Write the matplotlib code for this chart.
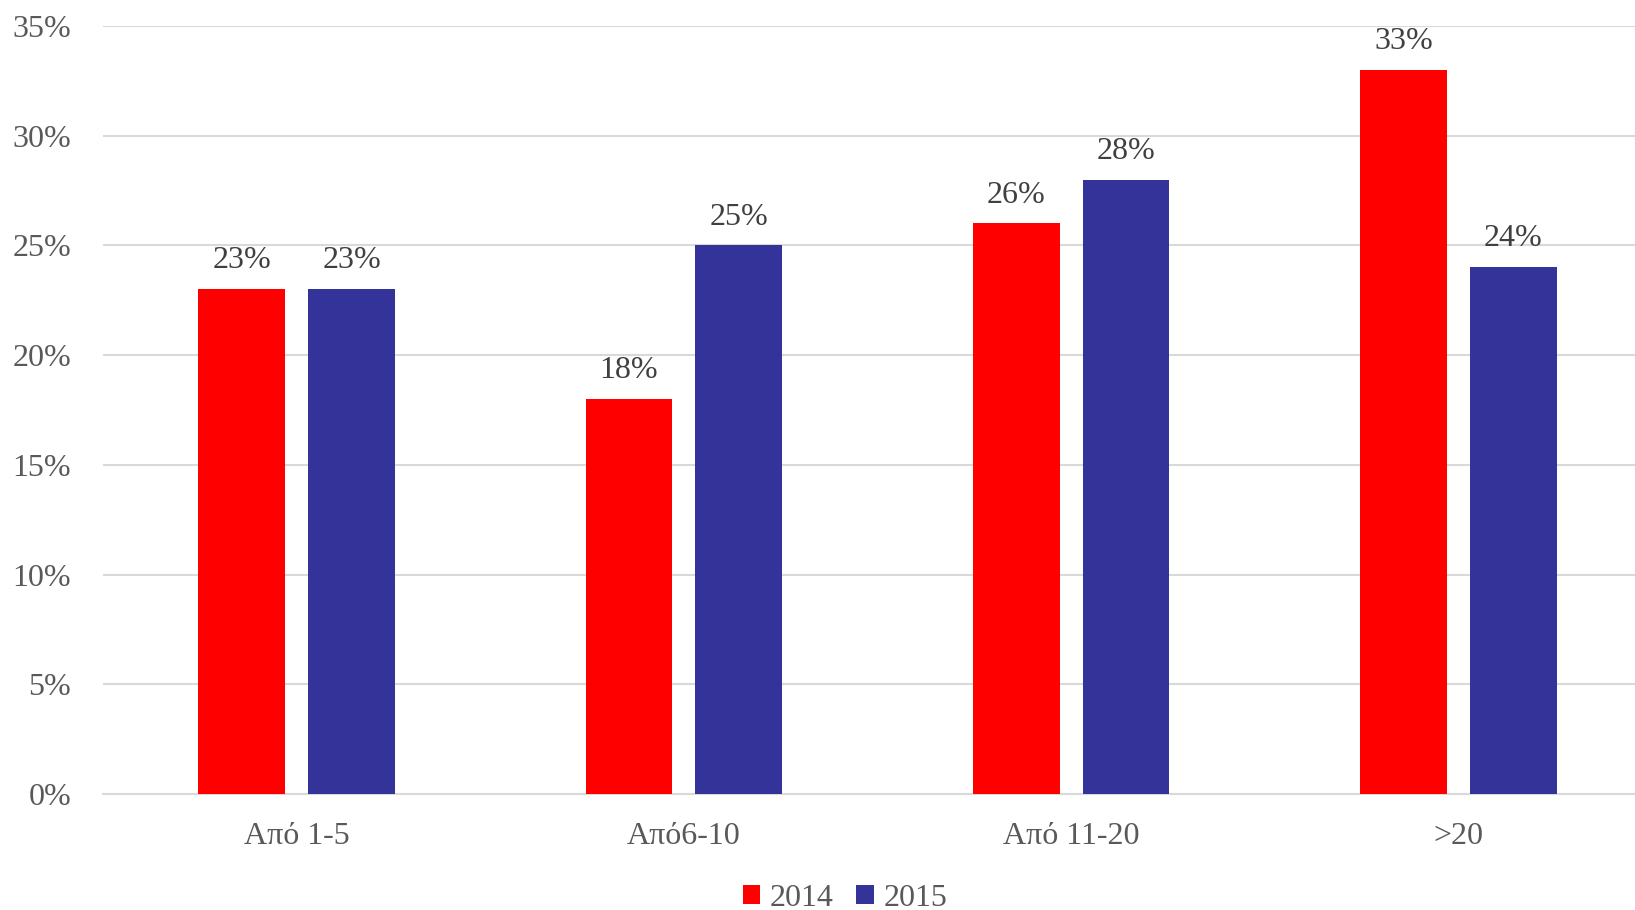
import numpy as np
import matplotlib.pyplot as plt
from matplotlib.ticker import PercentFormatter

plt.rcParams['font.family'] = ['Liberation Serif', 'DejaVu Serif']

categories = ["Από 1-5", "Από6-10", "Από 11-20", ">20"]
years = ["2014", "2015"]
values_2014 = [23, 18, 26, 33]
values_2015 = [23, 25, 28, 24]
colors = ["#FF0000", "#333399"]

fig = plt.figure(figsize=(16.35, 9.1), dpi=100)
# axis runs a little past the right edge of the canvas
ax = fig.add_axes([103 / 1635, 116 / 910, 1549 / 1635, 768 / 910])

x = np.arange(len(categories))
width = 0.224
offset = 0.142

for vals, off, col, lab in zip([values_2014, values_2015], [-offset, offset], colors, years):
    bars = ax.bar(x + off, vals, width, color=col, label=lab, zorder=3)
    for b, v in zip(bars, vals):
        ax.annotate(f"{v}%", (b.get_x() + b.get_width() / 2, v),
                    xytext=(0, 10), textcoords="offset points",
                    ha="center", va="bottom", fontsize=23, color="#404040")

ax.set_xlim(-0.5, len(categories) - 0.5)
ax.set_ylim(0, 35)
ax.set_yticks(np.arange(0, 36, 5))
ax.yaxis.set_major_formatter(PercentFormatter(decimals=0))
ax.set_xticks(x)
ax.set_xticklabels(categories)

ax.grid(axis="y", color="#D9D9D9", linewidth=1.5, zorder=0)
for s in ["top", "right", "left"]:
    ax.spines[s].set_visible(False)
ax.spines["bottom"].set_color("#D9D9D9")
ax.spines["bottom"].set_linewidth(1.5)
ax.tick_params(axis="both", length=0, labelsize=23, labelcolor="#595959")
ax.tick_params(axis="y", pad=23)
ax.tick_params(axis="x", pad=20)

fig.legend(loc="center", bbox_to_anchor=(845 / 1635, 12 / 910), ncol=2,
           frameon=False, fontsize=23, labelcolor="#595959",
           handlelength=0.55, handleheight=0.55, handletextpad=0.3, columnspacing=0.7)

fig.savefig("out.png", dpi=100)
